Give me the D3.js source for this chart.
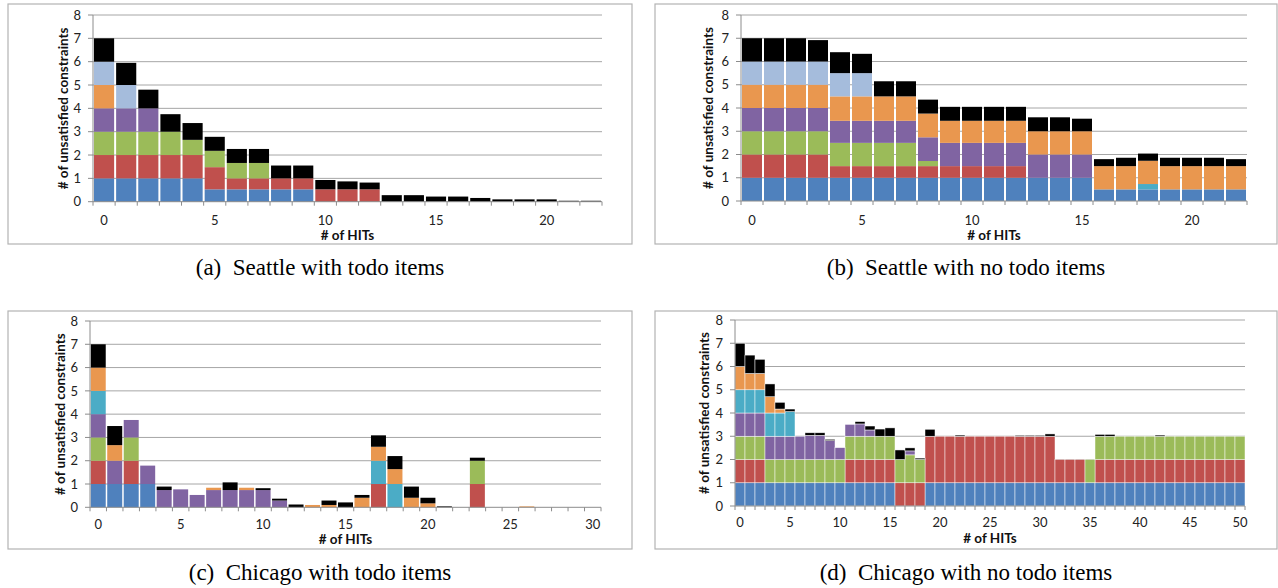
<!DOCTYPE html>
<html>
<head>
<meta charset="utf-8">
<script src="https://cdn.jsdelivr.net/npm/d3@7"></script>
<style>
  body { margin: 0; background: #fff; }
  svg { display: block; }
  .caption { font-family: "Liberation Serif", "Times New Roman", serif; font-size: 23px; white-space: pre; }
  .tick-label { font-family: Lato, "Open Sans", sans-serif; font-size: 13px; fill: #222; }
  .axis-title { font-family: Lato, "Open Sans", sans-serif; font-size: 13.5px; font-weight: bold; fill: #111; }
</style>
</head>
<body>
<svg></svg>
<script>
const size = {w: 1278, h: 588};

// one stack series per constraint type, bottom to top
const seriesKeys = ['type1', 'type2', 'type3', 'type4', 'type5', 'type6', 'type7', 'other'];
const seriesColors = ['#4f81bd', '#c0504d', '#9bbb59', '#8064a2', '#4bacc6', '#e9974f', '#a5bcdc', '#000000'];

// rows: index = # of HITs, values in seriesKeys order
const seattleTodo = [
  [1, 1, 1, 1, 0, 1, 1, 1],
  [1, 1, 1, 1, 0, 0, 1, 0.95],
  [1, 1, 1, 1, 0, 0, 0, 0.8],
  [1, 1, 1, 0, 0, 0, 0, 0.75],
  [1, 1, 0.65, 0, 0, 0, 0, 0.72],
  [0.53, 0.95, 0.7, 0, 0, 0, 0, 0.6],
  [0.53, 0.47, 0.66, 0, 0, 0, 0, 0.6],
  [0.53, 0.47, 0.66, 0, 0, 0, 0, 0.6],
  [0.53, 0.47, 0, 0, 0, 0, 0, 0.55],
  [0.53, 0.47, 0, 0, 0, 0, 0, 0.55],
  [0, 0.53, 0, 0, 0, 0, 0, 0.4],
  [0, 0.53, 0, 0, 0, 0, 0, 0.34],
  [0, 0.53, 0, 0, 0, 0, 0, 0.29],
  [0, 0, 0, 0, 0, 0, 0, 0.28],
  [0, 0, 0, 0, 0, 0, 0, 0.28],
  [0, 0, 0, 0, 0, 0, 0, 0.22],
  [0, 0, 0, 0, 0, 0, 0, 0.22],
  [0, 0, 0, 0, 0, 0, 0, 0.16],
  [0, 0, 0, 0, 0, 0, 0, 0.1],
  [0, 0, 0, 0, 0, 0, 0, 0.1],
  [0, 0, 0, 0, 0, 0, 0, 0.1],
  [0, 0, 0, 0, 0, 0, 0, 0.04],
  [0, 0, 0, 0, 0, 0, 0, 0.04]
];

const seattleNoTodo = [
  [1, 1, 1, 1, 0, 1, 1, 1],
  [1, 1, 1, 1, 0, 1, 1, 1],
  [1, 1, 1, 1, 0, 1, 1, 1],
  [1, 1, 1, 1, 0, 1, 1, 0.92],
  [1, 0.5, 1, 0.95, 0, 1.05, 1, 0.9],
  [1, 0.5, 1, 0.95, 0, 1.05, 1, 0.83],
  [1, 0.5, 1, 0.95, 0, 1.05, 0, 0.65],
  [1, 0.5, 1, 0.95, 0, 1.05, 0, 0.65],
  [1, 0.5, 0.22, 1.02, 0, 1.02, 0, 0.6],
  [1, 0.5, 0, 1, 0, 0.95, 0, 0.6],
  [1, 0.5, 0, 1, 0, 0.95, 0, 0.6],
  [1, 0.5, 0, 1, 0, 0.95, 0, 0.6],
  [1, 0.5, 0, 1, 0, 0.95, 0, 0.6],
  [1, 0, 0, 1, 0, 1, 0, 0.6],
  [1, 0, 0, 1, 0, 1, 0, 0.6],
  [1, 0, 0, 1, 0, 1, 0, 0.54],
  [0.5, 0, 0, 0, 0, 1, 0, 0.3],
  [0.5, 0, 0, 0, 0, 1, 0, 0.36],
  [0.5, 0, 0, 0, 0.23, 1, 0, 0.31],
  [0.5, 0, 0, 0, 0, 1, 0, 0.36],
  [0.5, 0, 0, 0, 0, 1, 0, 0.36],
  [0.5, 0, 0, 0, 0, 1, 0, 0.36],
  [0.5, 0, 0, 0, 0, 1, 0, 0.3]
];

const chicagoTodo = [
  [1, 1, 1, 1, 1, 1, 0, 1],
  [1, 0, 0, 1, 0, 0.67, 0, 0.82],
  [1, 1, 1, 0.75, 0, 0, 0, 0],
  [1, 0, 0, 0.79, 0, 0, 0, 0],
  [0, 0, 0, 0.74, 0, 0, 0, 0.15],
  [0, 0, 0, 0.77, 0, 0, 0, 0],
  [0, 0, 0, 0.53, 0, 0, 0, 0],
  [0, 0, 0, 0.74, 0, 0.1, 0, 0],
  [0, 0, 0, 0.74, 0, 0, 0, 0.33],
  [0, 0, 0, 0.74, 0, 0.1, 0, 0],
  [0, 0, 0, 0.74, 0, 0, 0, 0.08],
  [0, 0, 0, 0.29, 0, 0, 0, 0.08],
  [0, 0, 0, 0, 0, 0, 0, 0.12],
  [0, 0, 0, 0, 0, 0.1, 0, 0],
  [0, 0, 0, 0, 0, 0.1, 0, 0.19],
  [0, 0, 0, 0, 0, 0, 0, 0.21],
  [0, 0, 0, 0, 0, 0.41, 0, 0.12],
  [0, 1, 0, 0, 1, 0.6, 0, 0.49],
  [0, 0, 0, 0, 1, 0.64, 0, 0.56],
  [0, 0, 0, 0, 0, 0.41, 0, 0.48],
  [0, 0, 0, 0, 0, 0.17, 0, 0.24],
  [0, 0, 0, 0, 0, 0, 0, 0.04],
  [0, 0, 0, 0, 0, 0, 0, 0],
  [0, 1, 1, 0, 0, 0, 0, 0.13],
  [0, 0, 0, 0, 0, 0, 0, 0],
  [0, 0, 0, 0, 0, 0, 0, 0],
  [0, 0, 0, 0, 0, 0.04, 0, 0],
  [0, 0, 0, 0, 0, 0, 0, 0],
  [0, 0, 0, 0, 0, 0, 0, 0],
  [0, 0, 0, 0, 0, 0, 0, 0],
  [0, 0, 0, 0, 0, 0, 0, 0]
];

const chicagoNoTodo = [
  [1, 1, 1, 1, 1, 1, 0, 1],
  [1, 1, 1, 1, 1, 0.7, 0, 0.79],
  [1, 1, 1, 1, 1, 0.7, 0, 0.61],
  [1, 0, 1, 1, 1, 0.7, 0, 0.55],
  [1, 0, 1, 1, 1, 0.17, 0, 0.29],
  [1, 0, 1, 1, 1.06, 0, 0, 0.11],
  [1, 0, 1, 1, 0, 0, 0, 0],
  [1, 0, 1, 1.04, 0, 0, 0, 0.11],
  [1, 0, 1, 1.04, 0, 0, 0, 0.11],
  [1, 0, 1, 0.81, 0, 0, 0, 0.06],
  [1, 0, 1, 0.51, 0, 0, 0, 0],
  [1, 1, 1, 0.51, 0, 0, 0, 0],
  [1, 1, 1, 0.53, 0, 0, 0, 0.1],
  [1, 1, 1, 0.27, 0, 0, 0, 0.17],
  [1, 1, 1, 0, 0, 0, 0, 0.31],
  [1, 1, 1, 0, 0, 0, 0, 0.36],
  [0, 1, 1, 0, 0, 0, 0, 0.41],
  [0, 1, 1.2, 0.17, 0, 0, 0, 0.13],
  [0, 1, 1, 0, 0, 0, 0, 0.06],
  [1, 2, 0, 0, 0, 0, 0, 0.3],
  [1, 2, 0, 0, 0, 0, 0, 0],
  [1, 2, 0, 0, 0, 0, 0, 0],
  [1, 2, 0, 0, 0, 0, 0, 0.05],
  [1, 2, 0, 0, 0, 0, 0, 0],
  [1, 2, 0, 0, 0, 0, 0, 0],
  [1, 2, 0, 0, 0, 0, 0, 0],
  [1, 2, 0, 0, 0, 0, 0, 0],
  [1, 2, 0, 0, 0, 0, 0, 0],
  [1, 2, 0, 0, 0, 0, 0, 0.04],
  [1, 2, 0, 0, 0, 0, 0, 0.04],
  [1, 2, 0, 0, 0, 0, 0, 0.04],
  [1, 2, 0, 0, 0, 0, 0, 0.1],
  [1, 1, 0, 0, 0, 0, 0, 0],
  [1, 1, 0, 0, 0, 0, 0, 0],
  [1, 1, 0, 0, 0, 0, 0, 0],
  [1, 0, 1, 0, 0, 0, 0, 0],
  [1, 1, 1, 0, 0, 0, 0, 0.08],
  [1, 1, 1, 0, 0, 0, 0, 0.08],
  [1, 1, 1, 0, 0, 0, 0, 0],
  [1, 1, 1, 0, 0, 0, 0, 0],
  [1, 1, 1, 0, 0, 0, 0, 0],
  [1, 1, 1, 0, 0, 0, 0, 0],
  [1, 1, 1, 0, 0, 0, 0, 0.05],
  [1, 1, 1, 0, 0, 0, 0, 0],
  [1, 1, 1, 0, 0, 0, 0, 0],
  [1, 1, 1, 0, 0, 0, 0, 0],
  [1, 1, 1, 0, 0, 0, 0, 0],
  [1, 1, 1, 0, 0, 0, 0, 0],
  [1, 1, 1, 0, 0, 0, 0, 0],
  [1, 1, 1, 0, 0, 0, 0, 0],
  [1, 1, 1, 0, 0, 0, 0, 0]
];

const yTicks = [0, 1, 2, 3, 4, 5, 6, 7, 8];
const xTitle = '# of HITs';
const yTitle = '# of unsatisfied constraints';

// layout of the four boxes, in page pixels
const panels = [
  {rows: seattleTodo, caption: '(a)  Seattle with todo items',
   box: [8, 4, 632, 244], x: [93, 602], y: [201.7, 15], yTitleX: 63,
   tickY: 225, titleY: 240, capY: 275, gap: 2, stroke: 0},
  {rows: seattleNoTodo, caption: '(b)  Seattle with no todo items',
   box: [655, 4, 1277, 244], x: [741, 1247], y: [201, 15], yTitleX: 708,
   tickY: 225, titleY: 240, capY: 275, gap: 2, stroke: 0},
  {rows: chicagoTodo, caption: '(c)  Chicago with todo items',
   box: [8, 311, 632, 549], x: [90, 601], y: [507.3, 321], yTitleX: 60,
   tickY: 529, titleY: 544, capY: 580, gap: 1.5, stroke: 0},
  {rows: chicagoNoTodo, caption: '(d)  Chicago with no todo items',
   box: [655, 311, 1277, 549], x: [735, 1245], y: [506, 320], yTitleX: 704,
   tickY: 527, titleY: 543, capY: 580, gap: 0, stroke: 0.6}
];

const svg = d3.select('svg')
  .attr('width', size.w)
  .attr('height', size.h);

panels.forEach(drawPanel);

function drawPanel(p) {
  const g = svg.append('g');

  // outer frame
  g.append('rect')
    .attr('x', p.box[0]).attr('y', p.box[1])
    .attr('width', p.box[2] - p.box[0]).attr('height', p.box[3] - p.box[1])
    .attr('fill', 'none').attr('stroke', '#b3b3b3').attr('stroke-width', 1.2);

  const table = p.rows.map((r, i) => {
    const o = {hit: i};
    seriesKeys.forEach((k, j) => o[k] = r[j]);
    return o;
  });

  const x = d3.scaleBand()
    .domain(table.map(d => d.hit))
    .range(p.x)
    .padding(0);
  const y = d3.scaleLinear().domain([0, 8]).range(p.y);

  // grid
  g.append('g').selectAll('line')
    .data(yTicks.slice(1))
    .join('line')
    .attr('x1', p.x[0]).attr('x2', p.x[1])
    .attr('y1', d => y(d)).attr('y2', d => y(d))
    .attr('stroke', '#a6a6a6').attr('stroke-width', 1);

  // stacked bars
  const stacked = d3.stack().keys(seriesKeys)(table);
  g.append('g').selectAll('g')
    .data(stacked)
    .join('g')
    .attr('fill', (d, i) => seriesColors[i])
    .selectAll('rect')
    .data(d => d.filter(s => s[1] - s[0] > 0))
    .join('rect')
    .attr('x', d => x(d.data.hit) + p.gap / 2)
    .attr('width', x.bandwidth() - p.gap)
    .attr('y', d => y(d[1]))
    .attr('height', d => y(d[0]) - y(d[1]))
    .attr('stroke', p.stroke ? '#ffffff' : 'none')
    .attr('stroke-width', p.stroke)
    .attr('stroke-opacity', 0.8);

  // axes lines and ticks
  const axisColor = '#8c8c8c';
  g.append('line')
    .attr('x1', p.x[0]).attr('x2', p.x[0])
    .attr('y1', y(0)).attr('y2', y(8))
    .attr('stroke', axisColor);
  g.append('line')
    .attr('x1', p.x[0]).attr('x2', p.x[1])
    .attr('y1', y(0)).attr('y2', y(0))
    .attr('stroke', axisColor);

  g.append('g').selectAll('line')
    .data(yTicks)
    .join('line')
    .attr('x1', p.x[0] - 5).attr('x2', p.x[0])
    .attr('y1', d => y(d)).attr('y2', d => y(d))
    .attr('stroke', axisColor);

  const bounds = table.map(d => x(d.hit)).concat([p.x[1]]);
  g.append('g').selectAll('line')
    .data(bounds)
    .join('line')
    .attr('x1', d => d).attr('x2', d => d)
    .attr('y1', y(0)).attr('y2', y(0) + 4)
    .attr('stroke', axisColor);

  // tick labels
  g.append('g').selectAll('text')
    .data(yTicks)
    .join('text')
    .attr('class', 'tick-label')
    .attr('x', p.x[0] - 12)
    .attr('y', d => y(d))
    .attr('dy', '0.36em')
    .attr('text-anchor', 'end')
    .text(d => d);

  g.append('g').selectAll('text')
    .data(table.filter(d => d.hit % 5 === 0))
    .join('text')
    .attr('class', 'tick-label')
    .attr('x', d => x(d.hit) + x.bandwidth() / 2)
    .attr('y', p.tickY)
    .attr('text-anchor', 'middle')
    .text(d => d.hit);

  // titles
  g.append('text')
    .attr('class', 'axis-title')
    .attr('x', (p.x[0] + p.x[1]) / 2)
    .attr('y', p.titleY)
    .attr('text-anchor', 'middle')
    .text(xTitle);

  g.append('text')
    .attr('class', 'axis-title')
    .attr('transform', `translate(${p.yTitleX},${(y(0) + y(8)) / 2}) rotate(-90)`)
    .attr('dy', '0.35em')
    .attr('text-anchor', 'middle')
    .text(yTitle);

  g.append('text')
    .attr('class', 'caption')
    .attr('x', (p.box[0] + p.box[2]) / 2)
    .attr('y', p.capY)
    .attr('text-anchor', 'middle')
    .text(p.caption);
}
</script>
</body>
</html>
